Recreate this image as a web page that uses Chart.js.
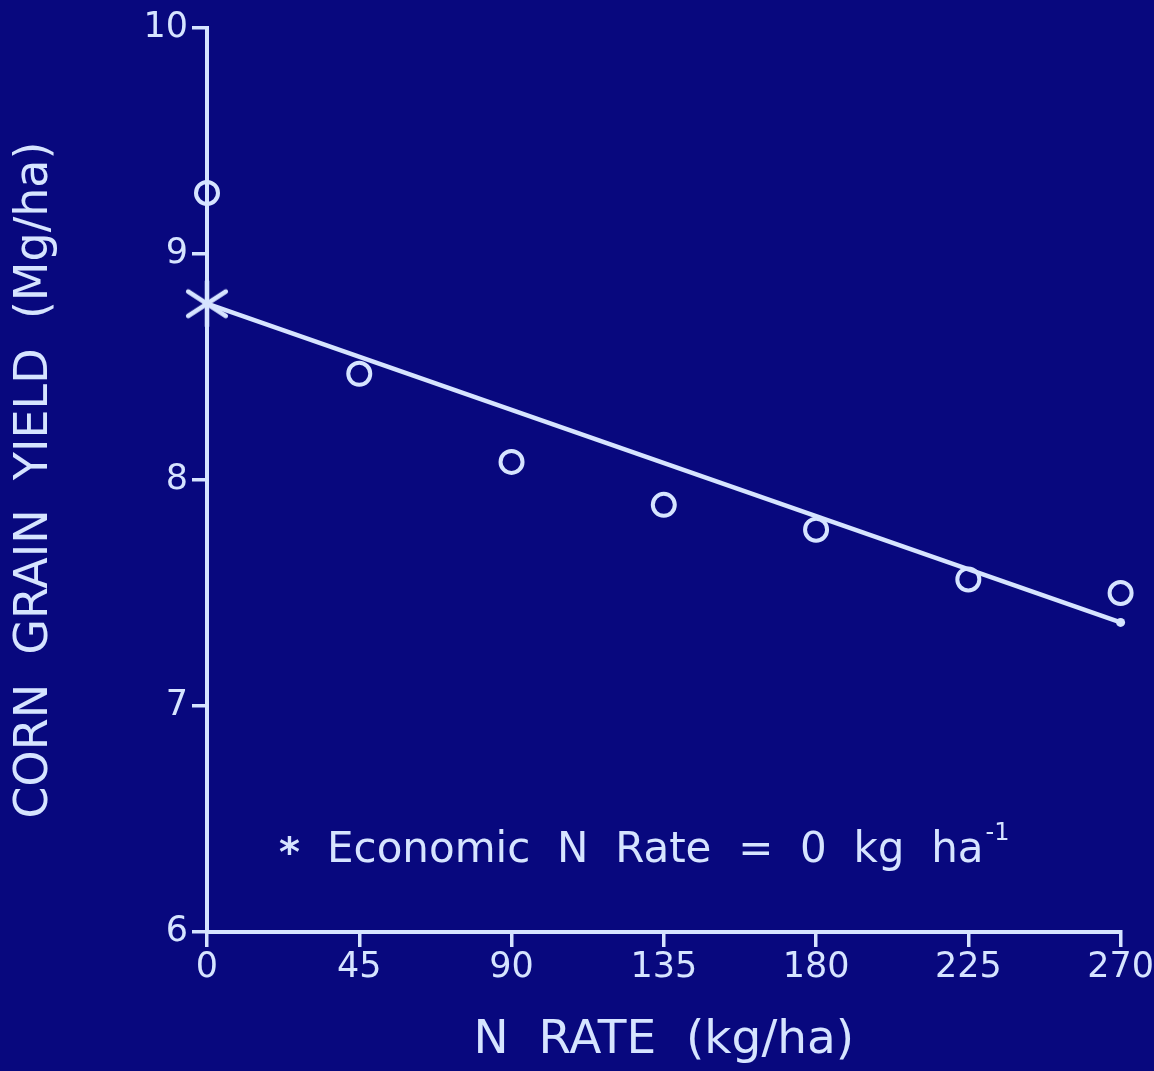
<!DOCTYPE html>
<html><head><meta charset="utf-8">
<script src="https://cdn.jsdelivr.net/npm/chart.js@4/dist/chart.umd.min.js"></script>
<style>html,body{margin:0;padding:0;background:#08087e;overflow:hidden}canvas{display:block}</style>
</head><body><canvas id="c" width="1154" height="1071"></canvas>
<script>
// ---- data ----
const xTickValues = [0, 45, 90, 135, 180, 225, 270];
const yTickValues = [6, 7, 8, 9, 10];
const nRates  = [0, 45, 90, 135, 180, 225, 270];
const yields  = [9.27, 8.47, 8.08, 7.89, 7.78, 7.56, 7.50];
const fitX    = [0, 270];
const fitY    = [8.78, 7.37];
const econX   = [0];
const econY   = [8.78];
const xTitle  = 'N  RATE  (kg/ha)';
const yTitle  = 'CORN  GRAIN  YIELD  (Mg/ha)';
const noteText = 'Economic  N  Rate  =  0  kg  ha';
const noteSup  = '-1';

const FG = '#d6e4ff';
const BG = '#08087e';
const FONT = '"DejaVu Sans", sans-serif';

// asterisk marker (6 arms)
function makeAsterisk(size, lw) {
  const c = document.createElement('canvas');
  c.width = size; c.height = size;
  const g = c.getContext('2d');
  g.strokeStyle = FG; g.lineWidth = lw; g.lineCap = 'round';
  const r = size / 2 - lw;
  g.translate(size / 2, size / 2);
  [90, 33, -33].forEach(a => {
    const t = a * Math.PI / 180;
    g.beginPath();
    g.moveTo(-r * Math.cos(t), -r * Math.sin(t));
    g.lineTo(r * Math.cos(t), r * Math.sin(t));
    g.stroke();
  });
  return c;
}
const asterisk = makeAsterisk(54, 4.5);

const bgPlugin = {
  id: 'bg',
  beforeDraw(chart) {
    const ctx = chart.ctx;
    ctx.save();
    ctx.fillStyle = BG;
    ctx.fillRect(0, 0, chart.width, chart.height);
    ctx.restore();
  }
};

const notePlugin = {
  id: 'note',
  afterDraw(chart) {
    const ctx = chart.ctx, a = chart.chartArea;
    ctx.save();
    ctx.fillStyle = FG;
    ctx.textBaseline = 'alphabetic';
    const x0 = a.left + 72, y0 = a.bottom - 70;
    ctx.font = 'bold 40px ' + FONT;
    ctx.fillText('*', x0, y0 + 4);
    ctx.font = '42px ' + FONT;
    const x1 = x0 + 48;
    ctx.fillText(noteText, x1, y0);
    const w = ctx.measureText(noteText).width;
    ctx.font = '24px ' + FONT;
    ctx.fillText(noteSup, x1 + w + 2, y0 - 22);
    ctx.restore();
  }
};

new Chart(document.getElementById('c'), {
  type: 'scatter',
  data: {
    datasets: [
      {
        label: 'fit',
        type: 'line',
        data: fitX.map((x, i) => ({ x, y: fitY[i] })),
        borderColor: FG,
        backgroundColor: FG,
        borderWidth: 4.5,
        pointRadius: [0, 4.5],
        pointBorderWidth: 0,
        fill: false,
        tension: 0,
        clip: false
      },
      {
        label: 'yield',
        data: nRates.map((x, i) => ({ x, y: yields[i] })),
        pointStyle: 'circle',
        pointRadius: 11,
        borderWidth: 4,
        borderColor: FG,
        backgroundColor: 'rgba(0,0,0,0)',
        clip: false
      },
      {
        label: 'economic',
        data: econX.map((x, i) => ({ x, y: econY[i] })),
        pointStyle: asterisk,
        pointRadius: 27,
        clip: false
      }
    ]
  },
  options: {
    responsive: false,
    animation: false,
    layout: { padding: { top: 27, right: 33, left: 0, bottom: 0 } },
    plugins: { legend: { display: false }, tooltip: { enabled: false } },
    scales: {
      x: {
        type: 'linear', min: 0, max: 270,
        afterBuildTicks: s => { s.ticks = xTickValues.map(v => ({ value: v })); },
        afterFit: s => { s.height = 139; },
        ticks: { color: FG, font: { family: FONT, size: 35 }, padding: 0, maxRotation: 0 },
        grid: { display: true, drawOnChartArea: false, drawTicks: true, tickLength: 15, color: FG, lineWidth: 3.5 },
        border: { display: true, color: FG, width: 4 },
        title: { display: true, text: xTitle, color: FG, font: { family: FONT, size: 47 }, padding: { top: 0, bottom: 2 } }
      },
      y: {
        type: 'linear', min: 6, max: 10,
        afterBuildTicks: s => { s.ticks = yTickValues.map(v => ({ value: v })); },
        afterFit: s => { s.width = 207; },
        ticks: { color: FG, font: { family: FONT, size: 35 }, padding: 4 },
        grid: { display: true, drawOnChartArea: false, drawTicks: true, tickLength: 15, color: FG, lineWidth: 3.5 },
        border: { display: true, color: FG, width: 4 },
        title: { display: true, text: yTitle, color: FG, font: { family: FONT, size: 46 }, padding: { top: 7, bottom: 0 } }
      }
    }
  },
  plugins: [bgPlugin, notePlugin]
});
</script>
</body></html>
